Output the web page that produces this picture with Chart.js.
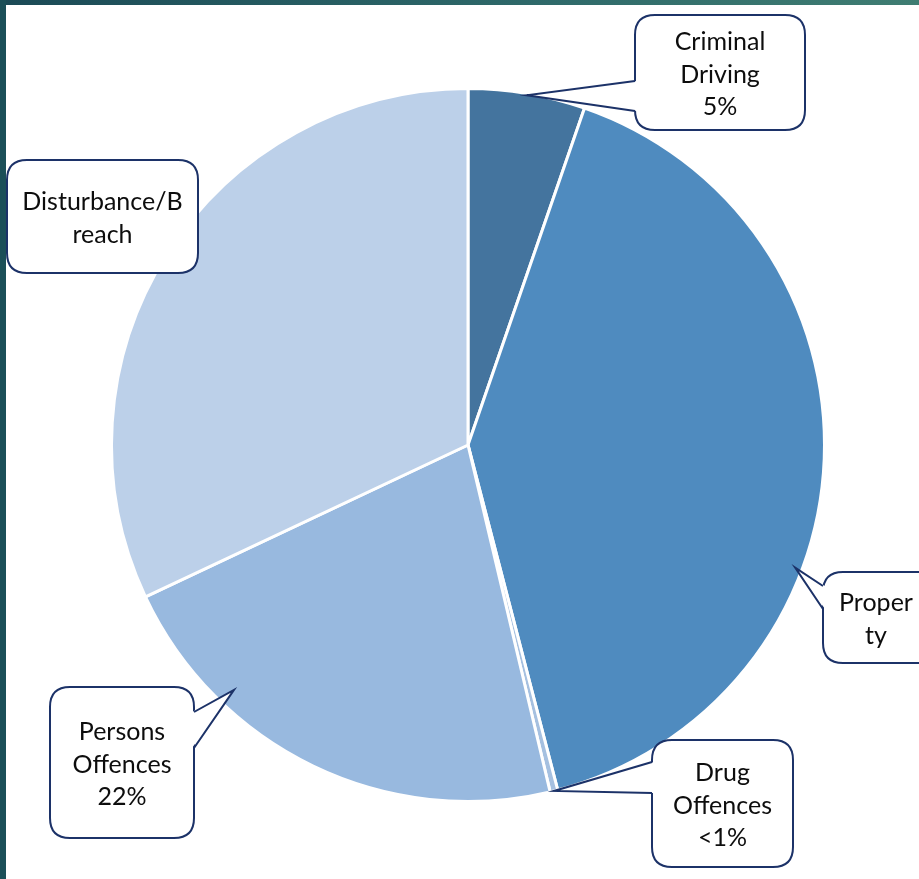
<!DOCTYPE html>
<html>
<head>
<meta charset="utf-8">
<script src="https://cdn.jsdelivr.net/npm/chart.js@4.4.1/dist/chart.umd.min.js"></script>
<style>
  html, body { margin: 0; padding: 0; background: #ffffff; }
  #frame { position: relative; width: 919px; height: 879px; overflow: hidden; background: #ffffff; }
  #topBand { position: absolute; left: 0; top: 0; width: 919px; height: 5px;
    background: linear-gradient(to right, #1b4a56, #2f6a6a 60%, #3f7d72); }
  #leftBand { position: absolute; left: 0; top: 0; width: 6px; height: 879px; background: #1b4f58; }
  canvas { position: absolute; left: 0; top: 0; }
</style>
</head>
<body>
<div id="frame">
  <div id="topBand"></div>
  <div id="leftBand"></div>
  <canvas id="pieChart" width="919" height="879"></canvas>
</div>
<script>
// データ
const categories = ['Criminal Driving', 'Property', 'Drug Offences', 'Persons Offences', 'Disturbance/Breach'];
const shares = [5.3, 40.65, 0.35, 21.7, 32.0];
const sliceColours = ['#44749e', '#4f8bbf', '#a5c0e0', '#98b9df', '#bcd0e9'];
const calloutLines = [
    ['Criminal', 'Driving', '5%'],
    ['Proper', 'ty'],
    ['Drug', 'Offences', '<1%'],
    ['Persons', 'Offences', '22%'],
    ['Disturbance/B', 'reach']
];

// 吹き出しの配置 (box, tail base points, tip position inside slice)
const calloutLayout = [
    { box: [635, 15, 170, 115], base: [[635, 81], [635, 111]], tipFrac: 0.5, tipR: 0.995 },
    { box: [823, 572, 120, 91], base: [[823, 586], [823, 609]], tipFrac: 0.625, tipR: 0.98 },
    { box: [652, 740, 141, 127], base: [[652, 762], [652, 793]], tipFrac: 0.5, tipR: 1.0 },
    { box: [50, 687, 144, 151], base: [[194, 712], [194, 748]], tipFrac: 0.73, tipR: 0.95 },
    { box: [7, 160, 191, 113], base: null }
];

function roundRect(ctx, x, y, w, h, r) {
    ctx.beginPath();
    ctx.moveTo(x + r, y);
    ctx.lineTo(x + w - r, y);
    ctx.quadraticCurveTo(x + w, y, x + w, y + r);
    ctx.lineTo(x + w, y + h - r);
    ctx.quadraticCurveTo(x + w, y + h, x + w - r, y + h);
    ctx.lineTo(x + r, y + h);
    ctx.quadraticCurveTo(x, y + h, x, y + h - r);
    ctx.lineTo(x, y + r);
    ctx.quadraticCurveTo(x, y, x + r, y);
    ctx.closePath();
}

const calloutPlugin = {
    id: 'callouts',
    afterDraw(chart) {
        const ctx = chart.ctx;
        const arcs = chart.getDatasetMeta(0).data;
        ctx.save();
        calloutLayout.forEach((c, i) => {
            const [bx, by, bw, bh] = c.box;
            ctx.lineWidth = 2;
            ctx.strokeStyle = '#1c3268';
            ctx.fillStyle = '#ffffff';
            roundRect(ctx, bx, by, bw, bh, 20);
            ctx.fill();
            ctx.stroke();

            if (c.base) {
                const arc = arcs[i];
                const p = arc.getProps(['x', 'y', 'startAngle', 'endAngle', 'outerRadius'], true);
                const a = p.startAngle + (p.endAngle - p.startAngle) * c.tipFrac;
                const tx = p.x + Math.cos(a) * p.outerRadius * c.tipR;
                const ty = p.y + Math.sin(a) * p.outerRadius * c.tipR;
                const cx = bx + bw / 2;
                const shift = c.base[0][0] < cx ? 2 : -2;
                // 先端の三角形で枠線を隠す
                ctx.beginPath();
                ctx.moveTo(c.base[0][0] + shift, c.base[0][1]);
                ctx.lineTo(tx, ty);
                ctx.lineTo(c.base[1][0] + shift, c.base[1][1]);
                ctx.closePath();
                ctx.fill();
                ctx.beginPath();
                ctx.moveTo(c.base[0][0], c.base[0][1]);
                ctx.lineTo(tx, ty);
                ctx.lineTo(c.base[1][0], c.base[1][1]);
                ctx.stroke();
            }

            const lines = calloutLines[i];
            const lineH = 32.5;
            ctx.fillStyle = '#0d0d0d';
            ctx.font = '25px Lato';
            ctx.textAlign = 'center';
            ctx.textBaseline = 'middle';
            let tcx = bx + bw / 2;
            if (i === 1) tcx = 876;
            const startY = by + bh / 2 - (lines.length - 1) * lineH / 2 + 2;
            lines.forEach((t, k) => ctx.fillText(t, tcx, startY + k * lineH));
        });
        ctx.restore();
    }
};

const pieCtx = document.getElementById('pieChart').getContext('2d');
const pieChart = new Chart(pieCtx, {
    type: 'pie',
    data: {
        labels: categories,
        datasets: [{
            data: shares,
            backgroundColor: sliceColours,
            borderColor: '#ffffff',
            borderWidth: 3
        }]
    },
    options: {
        responsive: false,
        animation: false,
        layout: {
            padding: { left: 110, right: 93, top: 87, bottom: 76 }
        },
        plugins: {
            legend: { display: false },
            tooltip: { enabled: false }
        }
    },
    plugins: [calloutPlugin]
});
</script>
</body>
</html>
